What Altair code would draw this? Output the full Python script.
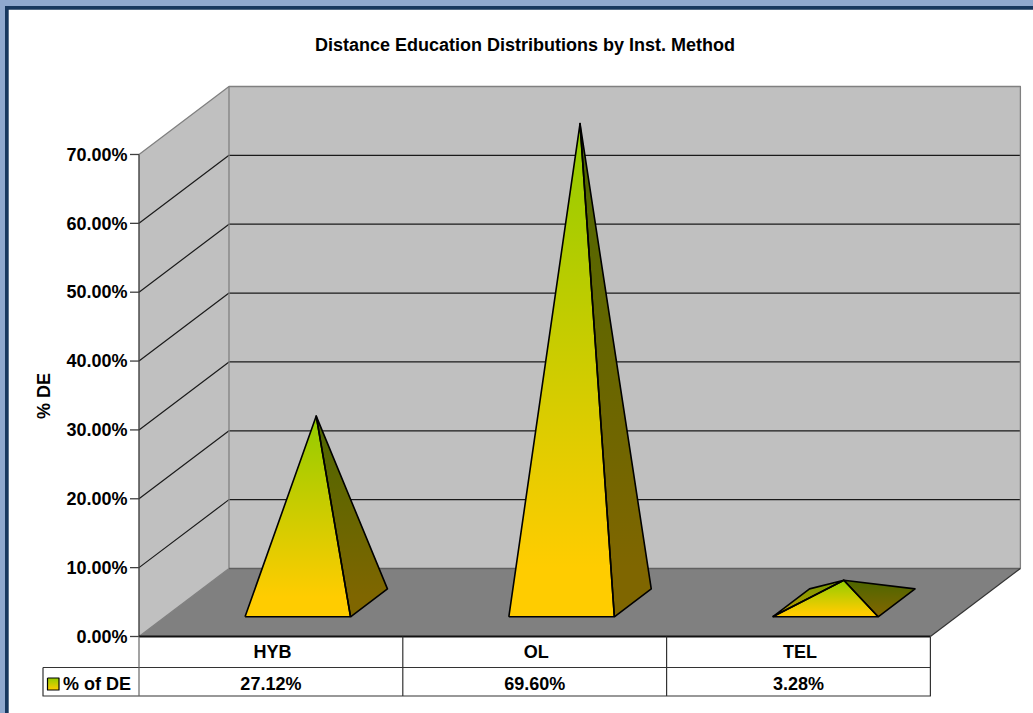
import altair as alt
import pandas as pd

# Chart content
TITLE = "Distance Education Distributions by Inst. Method"
AXIS_TITLE = "% DE"
SERIES_NAME = "% of DE"
categories = ["HYB", "OL", "TEL"]
values = [27.12, 69.60, 3.28]
y_ticks = [0, 10, 20, 30, 40, 50, 60, 70]

# Oblique projection of the 3-D plot box onto the page
W, H = 1033, 713
X0, Y0 = 139.0, 636.5      # front-left corner of the floor
BAND = 263.8               # width of one category
UNIT = 6.886               # pixels per percentage point
DX, DY = 90.0, 68.0        # offset of the back wall
HALF = 0.2                 # half base width of a pyramid, in bands
CENTER = 0.503             # pyramid centre within its band
D_FRONT, D_BACK = 0.29, 0.70
Y_MAX = y_ticks[-1]


def project(band, value=0.0, depth=0.0):
    return (X0 + band * BAND + depth * DX, Y0 - value * UNIT - depth * DY)


def area_rows(poly, name):
    """Turn a convex polygon into x / upper / lower rows for an area mark."""
    rows = []
    edges = list(zip(poly, poly[1:] + poly[:1]))
    for x in sorted({p[0] for p in poly}):
        ys = []
        for (xa, ya), (xb, yb) in edges:
            if min(xa, xb) <= x <= max(xa, xb):
                if xa == xb:
                    ys += [ya, yb]
                else:
                    ys.append(ya + (yb - ya) * (x - xa) / (xb - xa))
        rows.append({"x": x, "y": min(ys), "y2": max(ys), "face": name})
    return rows


def line_rows(points, name):
    return [{"x": x, "y": y, "path": name, "seq": i} for i, (x, y) in enumerate(points)]


x_s = alt.X("x:Q", scale=alt.Scale(domain=[0, W], range=[0, W], nice=False, zero=False), axis=None)
y_s = alt.Y("y:Q", scale=alt.Scale(domain=[0, H], range=[0, H], nice=False, zero=False), axis=None)


def gradient(bottom, top, mid=None):
    stops = [alt.GradientStop(color=bottom, offset=0)]
    if mid:
        stops.append(alt.GradientStop(color=mid[0], offset=mid[1]))
    stops.append(alt.GradientStop(color=top, offset=1))
    return alt.LinearGradient(gradient="linear", stops=stops, x1=0, x2=0, y1=1, y2=0)


def polys(polygons, fill):
    rows = []
    for i, p in enumerate(polygons):
        rows += area_rows(p, f"p{i}")
    return (
        alt.Chart(pd.DataFrame(rows))
        .mark_area(color=fill, interpolate="linear", opacity=1)
        .encode(x=x_s, y=y_s, y2="y2:Q", detail="face:N")
    )


def lines(paths, color, width=1.0):
    rows = []
    for i, p in enumerate(paths):
        rows += line_rows(p, f"l{i}")
    return (
        alt.Chart(pd.DataFrame(rows))
        .mark_line(color=color, strokeWidth=width, interpolate="linear", strokeJoin="round")
        .encode(x=x_s, y=y_s, detail="path:N", order="seq:Q")
    )


def texts(rows, size, align="center", angle=0):
    return (
        alt.Chart(pd.DataFrame(rows))
        .mark_text(font="Liberation Sans", fontWeight="bold", fontSize=size, color="#000000",
                   align=align, baseline="middle", angle=angle)
        .encode(x=x_s, y=y_s, text="t:N")
    )


n = len(categories)
layers = []

# Page frame along the top and left edges
layers.append(polys([[(0, 0), (W, 0), (W, 6), (0, 6)], [(0, 0), (5, 0), (5, H), (0, H)]], "#8FA8CE"))
layers.append(polys([[(5, 6), (W, 6), (W, 9.7), (5, 9.7)], [(5, 6), (8.7, 6), (8.7, H), (5, H)]], "#17375E"))

# Walls and floor
wall_left = [project(0, 0, 0), project(0, Y_MAX, 0), project(0, Y_MAX, 1), project(0, 0, 1)]
wall_back = [project(0, 0, 1), project(0, Y_MAX, 1), project(n, Y_MAX, 1), project(n, 0, 1)]
floor = [project(0, 0, 0), project(0, 0, 1), project(n, 0, 1), project(n, 0, 0)]
layers.append(polys([wall_left, wall_back], "#C0C0C0"))
layers.append(polys([floor], "#808080"))

# Gridlines across the side and back walls
grid = [[project(0, v, 0), project(0, v, 1), project(n, v, 1)] for v in y_ticks[1:-1]]
layers.append(lines(grid, "#1A1A1A", 1.2))

# Box edges
layers.append(lines([
    [project(0, Y_MAX, 0), project(0, Y_MAX, 1), project(n, Y_MAX, 1), project(n, 0, 1)],
    [project(0, Y_MAX, 1), project(0, 0, 1)],
    [project(0, 0, 0), project(0, 0, 1)],
], "#808080", 1.3))
layers.append(lines([[project(0, 0, 1), project(n, 0, 1)]], "#606060", 1.3))

# Pyramids, one per category, with their height taken from the values
mid_d = (D_FRONT + D_BACK) / 2
left_faces, right_faces, front_faces, outlines = [], [], [], []
for i, v in enumerate(values):
    c = i + CENTER
    fl = project(c - HALF, 0, D_FRONT)
    fr = project(c + HALF, 0, D_FRONT)
    br = project(c + HALF, 0, D_BACK)
    bl = project(c - HALF, 0, D_BACK)
    apex = project(c, v, mid_d)
    # The left face only shows on a pyramid flat enough to lean away from the viewer
    cross = (bl[0] - fl[0]) * (apex[1] - fl[1]) - (bl[1] - fl[1]) * (apex[0] - fl[0])
    if cross > 0:
        left_faces.append([fl, bl, apex])
        outlines.append([fl, bl, apex, fl])
    right_faces.append([fr, br, apex])
    front_faces.append([fl, fr, apex])
    outlines += [[fr, br, apex, fr], [fl, fr, apex, fl]]

layers.append(polys(left_faces, gradient("#BF9900", "#739900")))
layers.append(polys(right_faces, gradient("#7F6600", "#4C6600", ("#7F6600", 0.1))))
layers.append(polys(front_faces, gradient("#FFCC00", "#92CC00", ("#FFCC00", 0.1))))
layers.append(lines(outlines, "#000000", 1.6))

# Left axis with ticks and labels
layers.append(lines([[project(0, Y_MAX, 0), project(0, 0, 0)]], "#404040", 1.4))
layers.append(lines([[(X0 - 9, project(0, v)[1]), project(0, v)] for v in y_ticks], "#404040", 1.3))
layers.append(texts([{"x": X0 - 11.5, "y": project(0, v)[1] + 1.2, "t": f"{v:.2f}%"} for v in y_ticks], 18, "right"))

# Data table below the floor
ROW1, ROW2 = 667.5, 696.0
LEG_X = 43.0
layers.append(lines([[project(0, 0, 0), project(n, 0, 0)]], "#111111", 2.0))
layers.append(lines([[project(n, 0, 0), project(n, 0, 1)]], "#333333", 1.2))
table = [
    [(LEG_X, ROW1), (LEG_X, ROW2), (project(n)[0], ROW2), (project(n)[0], project(n)[1])],
    [(LEG_X, ROW1), (project(n)[0], ROW1)],
]
for i in range(1, n):
    table.append([(project(i)[0], project(i)[1]), (project(i)[0], ROW2)])
layers.append(lines(table, "#333333", 1.2))
layers.append(lines([[project(0), (X0, ROW2)]], "#666666", 1.2))

layers.append(texts([{"x": project(i + 0.5)[0] + 1.5, "y": 652.5, "t": c} for i, c in enumerate(categories)], 18))
layers.append(texts([{"x": project(i + 0.5)[0], "y": 685, "t": f"{v:.2f}%"} for i, v in enumerate(values)], 18))

# Series key inside the table
key = [(47.5, 678), (59, 678), (59, 690), (47.5, 690)]
layers.append(polys([key], gradient("#FFCC00", "#92CC00")))
layers.append(lines([key + key[:1]], "#000000", 1.2))
layers.append(texts([{"x": 63, "y": 685, "t": SERIES_NAME}], 18, "left"))

# Chart and axis titles
layers.append(texts([{"x": 525, "y": 45.5, "t": TITLE}], 18))
layers.append(texts([{"x": 44.5, "y": 396, "t": AXIS_TITLE}], 18, angle=270))

chart = (
    alt.layer(*layers)
    .properties(width=W, height=H, padding=0, autosize=alt.AutoSizeParams(type="none"), background="#FFFFFF")
    .configure_view(stroke=None)
)

chart.save("out.html", embed_options={"renderer": "svg", "actions": False})
